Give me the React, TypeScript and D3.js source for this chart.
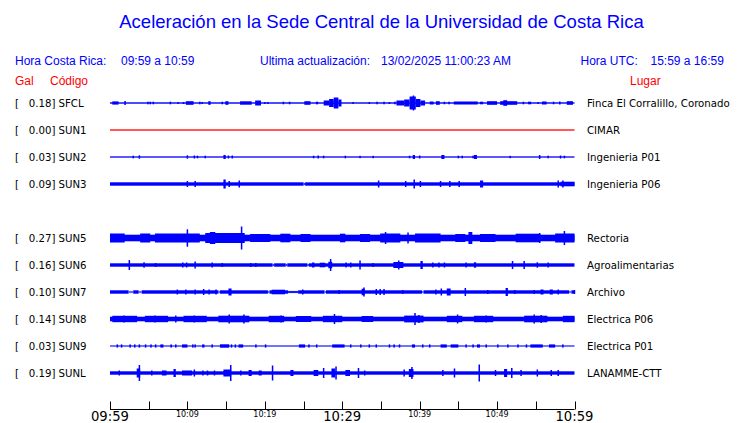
import React from "react";
import * as d3 from "d3";

// ---- data ----
const codes = ["SFCL", "SUN1", "SUN2", "SUN3", "SUN5", "SUN6", "SUN7", "SUN8", "SUN9", "SUNL"];
const gals = ["0.18", "0.00", "0.03", "0.09", "0.27", "0.16", "0.10", "0.14", "0.03", "0.19"];
const places = [
  "Finca El Corralillo, Coronado",
  "CIMAR",
  "Ingenieria P01",
  "Ingenieria P06",
  "Rectoria",
  "Agroalimentarias",
  "Archivo",
  "Electrica P06",
  "Electrica P01",
  "LANAMME-CTT",
];
const rowSlots = [0, 1, 2, 3, 5, 6, 7, 8, 9, 10];
const baseAmp = [0.7, 0.65, 0.65, 1.7, 3.3, 1.7, 1.7, 2.3, 0.55, 1.7];
const traceColor = ["blue", "red", "blue", "blue", "blue", "blue", "blue", "blue", "blue", "blue"];

// events: [startMinute, endMinute, halfAmplitude]
const sfclEvents = [
  [0.3, 1.1, 1.6], [1.85, 1.85, 2], [4.8, 4.8, 1.3], [5.1, 5.1, 1.3], [5.5, 5.5, 1.3], [7.7, 7.7, 1.3],
  [8.7, 8.7, 1], [9.4, 9.4, 1], [9.8, 10.8, 1.8], [11.5, 11.5, 1.3], [11.8, 11.8, 1], [12.7, 13.0, 1.8],
  [14.4, 14.4, 1.3], [14.9, 15.3, 1.8], [16.8, 18.3, 1.7], [18.75, 19.5, 2.5], [19.9, 19.9, 1], [20.3, 20.3, 1],
  [22.3, 22.3, 1.3], [23.1, 23.1, 1.3], [25.1, 25.9, 1.8], [26.6, 26.9, 1.3], [27.6, 28.3, 2.5],
  [28.3, 28.9, 4], [28.9, 29.5, 5.5], [29.5, 29.9, 3.5],
  [31.3, 31.3, 1], [33.4, 33.4, 1], [34.4, 34.4, 1.3], [35.3, 35.3, 1.3], [36.0, 36.0, 1], [36.7, 36.7, 1.3],
  [37.0, 38.0, 2.5], [38.0, 38.7, 3.5], [38.7, 39.5, 6.5], [39.1, 39.1, 7.5], [39.5, 40.1, 4], [40.1, 40.7, 2.5],
  [41.3, 41.8, 1.5], [42.1, 42.6, 1.8], [43.1, 43.1, 1.3], [43.7, 43.7, 1.3], [44.4, 47.5, 1.5],
  [47.8, 48.2, 1.3], [48.7, 50.0, 1.8], [50.4, 52.6, 1.8], [50.8, 51.3, 2.8], [53.3, 53.5, 1.3],
  [54.0, 54.4, 1.3], [55.2, 55.3, 1], [55.8, 56.4, 1.5], [57.2, 57.2, 1.3], [58.0, 58.2, 1.5], [59.0, 59.8, 1.8],
];
const sun1Events: number[][] = [];
const sun2Events = [
  [2.9, 2.9, 1.3], [3.7, 3.7, 1.7], [9.9, 9.9, 1.7], [10.8, 10.8, 1.5], [11.2, 11.2, 1.3], [12.2, 12.2, 1.3],
  [14.65, 14.95, 2], [15.2, 15.2, 1.5], [15.7, 15.7, 1.5], [26.2, 26.2, 1.3], [26.8, 26.8, 1.5], [27.5, 27.5, 1.3],
  [30.3, 30.3, 1.3], [32.2, 32.2, 1.2], [33.9, 33.9, 1.2], [38.6, 38.6, 1.3], [39.1, 39.4, 2], [39.9, 39.9, 1.5],
  [42.8, 43.2, 2], [44.9, 44.9, 1.3], [45.4, 45.4, 1.3], [46.8, 46.8, 1.3], [47.0, 47.4, 2], [51.6, 51.6, 1.2],
  [55.4, 55.4, 2], [56.5, 56.5, 1.3], [58.1, 58.1, 1.5], [58.6, 58.6, 1.3],
];
const sun3Events = [
  [9.9, 9.9, 3], [10.9, 10.9, 3], [14.65, 14.95, 4.5], [15.3, 15.3, 3], [16.6, 16.6, 3.5],
  [34.6, 34.6, 3.5], [38.1, 38.1, 3], [39.2, 39.2, 4.5], [40.0, 40.0, 3], [42.6, 42.6, 3], [43.8, 43.8, 3],
  [45.0, 45.0, 3], [47.8, 48.2, 3.5], [57.8, 57.8, 3.5], [58.4, 58.4, 3.5], [58.2, 60, 2.3],
];
const sun5Events = [
  [0, 1.9, 4.5], [3.9, 5.2, 4.5], [5.8, 11.6, 4.5], [12.3, 17.4, 5], [18.1, 20.7, 4], [22, 23.3, 4.3],
  [24.6, 25.9, 4], [29.7, 30.4, 4.3], [32.3, 33.6, 4], [34.9, 37.5, 4.5], [39.4, 42.7, 4.5], [44.6, 45.9, 4],
  [47.8, 49.8, 4], [52.4, 55.6, 4.3], [57.5, 60, 4.5],
  [9.9, 9.9, 8.7], [12.9, 13.6, 6], [16.9, 16.9, 11.5], [35.5, 35.5, 6], [38.4, 38.4, 5.5],
  [46.3, 46.8, 6], [55.4, 55.4, 5], [58.6, 58.6, 7],
];
const sun6Events = [
  [2.4, 2.4, 5], [4.3, 4.3, 2.7], [5.8, 5.8, 2], [9.3, 9.3, 2.5], [9.8, 9.8, 2.5], [10.9, 10.9, 3.5],
  [13.1, 13.1, 2.5], [14.4, 14.4, 2], [18.1, 18.1, 2], [18.75, 18.75, 2], [26.1, 26.4, 2.5], [27.1, 27.8, 2.3],
  [28.4, 28.4, 6], [28.2, 28.7, 3.2],
  [30.4, 30.4, 2.5], [31.0, 31.0, 2.5], [32.2, 32.2, 4.5], [33.9, 33.9, 2], [36.6, 37.9, 3], [37.2, 37.2, 4.5],
  [40.1, 40.4, 4], [41.6, 41.6, 2.5], [42.4, 42.4, 2.5], [43.1, 43.1, 2.5], [45.9, 45.9, 2.5], [47.0, 47.3, 2.7],
  [51.9, 51.9, 4], [53.4, 53.4, 4], [55.1, 55.1, 2.7], [56.5, 56.5, 2.5],
];
const sun7Events = [
  [8.6, 8.6, 2.5], [9.7, 9.7, 2.5], [10.9, 10.9, 2.5], [12.0, 12.0, 3], [12.7, 12.7, 2.5], [13.6, 13.6, 2.5],
  [15.3, 15.7, 3.5], [20.9, 22.6, 2.3], [24.8, 24.8, 2.5], [29.5, 29.5, 2],
  [32.5, 32.9, 3.2], [32.7, 32.7, 4.5], [34.3, 34.3, 3], [34.8, 34.8, 3], [35.3, 35.3, 3], [37.7, 37.7, 2],
  [42.0, 42.0, 2.5], [42.7, 42.7, 3.5], [43.5, 44.0, 3.5], [45.8, 45.8, 4], [48.7, 48.7, 2],
  [51.1, 51.4, 4], [52.2, 52.2, 2], [54.7, 54.7, 2], [55.6, 56.0, 2.5], [56.8, 57.2, 2.5], [57.8, 57.8, 2.5],
  [59.9, 59.9, 2],
];
const sun7Gaps = [
  [2.4, 3.0, 0.6], [3.7, 4.1, 0.6], [14.0, 14.1, 0.6], [20.4, 20.6, 0.6], [23.0, 24.3, 0.9], [27.7, 27.9, 0.6],
  [40.3, 40.5, 0.6], [59.3, 59.6, 0.6],
];
const sun3Gaps = [[25.0, 25.2, 0.8]];
const sun6Gaps = [[21.0, 21.2, 0.8], [22.7, 22.9, 0.8], [25.5, 25.7, 0.8]];
const sun8Events = [
  [0.3, 3.5, 3.2], [4.5, 7.5, 3.2], [9.5, 12.5, 3.2], [14.0, 18.0, 3.3], [20.5, 22.5, 3.2], [24, 26, 3],
  [27.5, 30, 3.2], [32.5, 34, 3], [38, 40.5, 3.4], [43.5, 45.5, 3.2], [47, 49.5, 3.2], [53.5, 56.5, 3.3],
  [58.5, 60, 3.2],
  [1.7, 1.7, 3.5], [5.7, 5.7, 3.5], [8.4, 8.4, 3.5], [10.8, 10.8, 3.5], [15.3, 15.3, 4.5], [17.2, 17.2, 4.5],
  [22.0, 22.0, 3.5], [28.9, 28.9, 5], [39.3, 39.3, 6], [39.8, 39.8, 4], [44.8, 44.8, 4.5], [48.5, 48.5, 3.5],
  [54.7, 54.7, 4.5], [55.6, 55.6, 4],
];
const sun9Events = [
  [0.85, 0.85, 1.6], [1.4, 1.4, 1.6], [2.5, 2.5, 1.6], [3.1, 3.1, 1.6], [3.7, 3.7, 1.6], [4.5, 4.5, 1.6],
  [5.2, 5.2, 1.6], [5.8, 5.8, 1.6], [6.5, 6.9, 1.6], [7.8, 8.0, 1.6], [8.4, 8.4, 1.6], [9.3, 10.0, 1.6],
  [10.6, 10.6, 1.6], [10.9, 10.9, 1.6], [11.9, 12.2, 1.6], [13.1, 13.1, 1.6], [14.2, 15.4, 1.7], [15.6, 15.6, 1.6],
  [16.1, 16.1, 1.6], [16.6, 17.2, 1.6], [18.75, 18.75, 1.6], [20.0, 20.0, 1.6], [24.4, 25.2, 1.6],
  [25.6, 25.6, 1.6], [26.6, 26.6, 1.6], [28.7, 30.3, 1.6], [31.0, 31.0, 1.6], [32.3, 32.3, 1.6],
  [33.4, 33.4, 1.6], [34.3, 34.3, 1.6], [36.0, 36.0, 1.6], [36.6, 36.6, 1.6], [37.3, 37.3, 1.6],
  [39.0, 39.4, 1.6], [40.3, 40.3, 1.6], [41.2, 41.2, 1.6], [42.7, 43.5, 1.6], [44.0, 45.0, 1.6],
  [45.9, 45.9, 1.6], [46.8, 46.8, 1.6], [47.4, 47.8, 1.6], [48.5, 48.5, 1.6], [50.0, 50.0, 1.6],
  [51.3, 51.3, 1.6], [52.6, 52.6, 1.6], [53.7, 53.7, 1.6], [54.3, 55.9, 1.6], [56.7, 57.5, 1.6], [58.4, 58.4, 1.6],
];
const sunlEvents = [
  [1.1, 1.1, 2.5], [3.45, 3.9, 4.5], [3.7, 3.7, 8], [5.3, 5.3, 2.5], [6.7, 7.3, 2.5], [8.2, 8.5, 4],
  [9.3, 10.6, 2.5], [10.8, 10.8, 3.5], [11.9, 11.9, 2.5], [12.5, 12.5, 2.5], [13.4, 13.4, 2.5],
  [14.65, 15.65, 3.5], [15.5, 15.5, 8], [16.8, 16.8, 2.5], [17.9, 18.3, 3], [19.2, 19.6, 2.5], [20.9, 20.9, 7.5],
  [23.3, 23.7, 3], [26.3, 26.9, 3], [27.5, 27.5, 5], [28.6, 29.1, 4.5], [29.1, 29.1, 6.5],
  [30.4, 31.0, 3], [32.0, 32.0, 5], [32.8, 32.8, 2.5], [37.9, 37.9, 3.5], [38.6, 39.2, 4], [38.9, 38.9, 6],
  [42.9, 42.9, 3], [44.4, 44.4, 4.5], [47.6, 47.6, 8.5], [49.7, 49.7, 3], [50.9, 51.3, 4], [51.8, 51.8, 5],
  [53.0, 53.0, 3], [55.1, 55.1, 3.5], [56.9, 56.9, 3], [57.8, 57.8, 3],
];
const eventsList = [sfclEvents, sun1Events, sun2Events, sun3Events, sun5Events, sun6Events, sun7Events, sun8Events, sun9Events, sunlEvents];
const gapsList: number[][][] = [[], [], [], sun3Gaps, [], sun6Gaps, sun7Gaps, [], [], []];

const tickMinutes = d3.range(0, 61, 5);
const labelMinutes = [0, 10, 20, 30, 40, 50, 60];
const tickLabels = ["09:59", "10:09", "10:19", "10:29", "10:39", "10:49", "10:59"];
const bigLabel = [true, false, false, true, false, false, true];

const BLUE = "#0000ff";
const RED = "#ff0000";

export default function App() {
  const W = 740, H = 423;
  const x = d3.scaleLinear().domain([0, 60]).range([110, 574.5]);
  const row = d3.scaleLinear().domain([0, 10]).range([103, 373]);
  const headerFont = "'Liberation Sans', Arial, sans-serif";
  const labelFont = "'DejaVu Sans', sans-serif";

  return (
    <svg width={W} height={H} style={{ position: "absolute", left: 0, top: 0, background: "#fff" }}>
      <rect x={0} y={0} width={W} height={H} fill="#fff" />
      <text x={381.5} y={28} textAnchor="middle" fontFamily={headerFont} fontSize={18.5} fill={BLUE}>
        Aceleración en la Sede Central de la Universidad de Costa Rica
      </text>
      <g fontFamily={headerFont} fontSize={12} fill={BLUE}>
        <text x={15} y={65}>Hora Costa Rica:</text>
        <text x={121} y={65}>09:59 a 10:59</text>
        <text x={260} y={65}>Ultima actualización:</text>
        <text x={381} y={65}>13/02/2025 11:00:23 AM</text>
        <text x={580.5} y={65}>Hora UTC:</text>
        <text x={650.5} y={65}>15:59 a 16:59</text>
      </g>
      <g fontFamily={headerFont} fontSize={12} fill={RED}>
        <text x={15} y={85}>Gal</text>
        <text x={50} y={85}>Código</text>
        <text x={630} y={85}>Lugar</text>
      </g>

      {codes.map((code, i) => {
        const cy = row(rowSlots[i]);
        const amp = d3.scaleLinear().domain([-10, 10]).range([cy + 10, cy - 10]);
        const col = traceColor[i] === "red" ? RED : BLUE;
        const b = baseAmp[i];
        const x0 = x(0), x1 = x(60);
        return (
          <g key={code}>
            <text x={15} y={cy + 4} fontFamily={labelFont} fontSize={10.2} fill="#000">[</text>
            <text x={55.5} y={cy + 4} textAnchor="end" fontFamily={labelFont} fontSize={10.2} fill="#000">{gals[i]}]</text>
            <text x={58.5} y={cy + 4} fontFamily={labelFont} fontSize={10.2} fill="#000">{code}</text>
            <text x={587} y={cy + 4} fontFamily={labelFont} fontSize={10.2} fill="#000">{places[i]}</text>
            <rect x={x0} y={amp(b)} width={x1 - x0} height={amp(-b) - amp(b)} fill={col} />
            {gapsList[i].map((g, j) => {
              const gx = x(g[0]);
              const gw = Math.max(x(g[1]) - gx, 1.5);
              return (
                <g key={"g" + j}>
                  <rect x={gx} y={amp(b) - 0.2} width={gw} height={amp(-b) - amp(b) + 0.4} fill="#fff" />
                  <rect x={gx} y={amp(g[2])} width={gw} height={amp(-g[2]) - amp(g[2])} fill={col} />
                </g>
              );
            })}
            {eventsList[i].map((e, j) => {
              const ex = x(e[0]);
              const ew = Math.max(x(e[1]) - ex, 1.5);
              return <rect key={j} x={ex} y={amp(e[2])} width={ew} height={amp(-e[2]) - amp(e[2])} fill={col} />;
            })}
          </g>
        );
      })}

      <g>
        <line x1={x(0)} x2={x(60)} y1={409.5} y2={409.5} stroke="#000" strokeWidth={1} />
        {tickMinutes.map((m) => (
          <line key={m} x1={Math.round(x(m)) + 0.5} x2={Math.round(x(m)) + 0.5} y1={401.5} y2={409.5} stroke="#000" strokeWidth={1} />
        ))}
        {labelMinutes.map((m, k) => (
          <text
            key={m}
            x={x(m)}
            y={bigLabel[k] ? 421 : 417}
            textAnchor="middle"
            fontFamily={labelFont}
            fontSize={bigLabel[k] ? 13.2 : 8}
            fill="#000"
          >
            {tickLabels[k]}
          </text>
        ))}
      </g>
    </svg>
  );
}
